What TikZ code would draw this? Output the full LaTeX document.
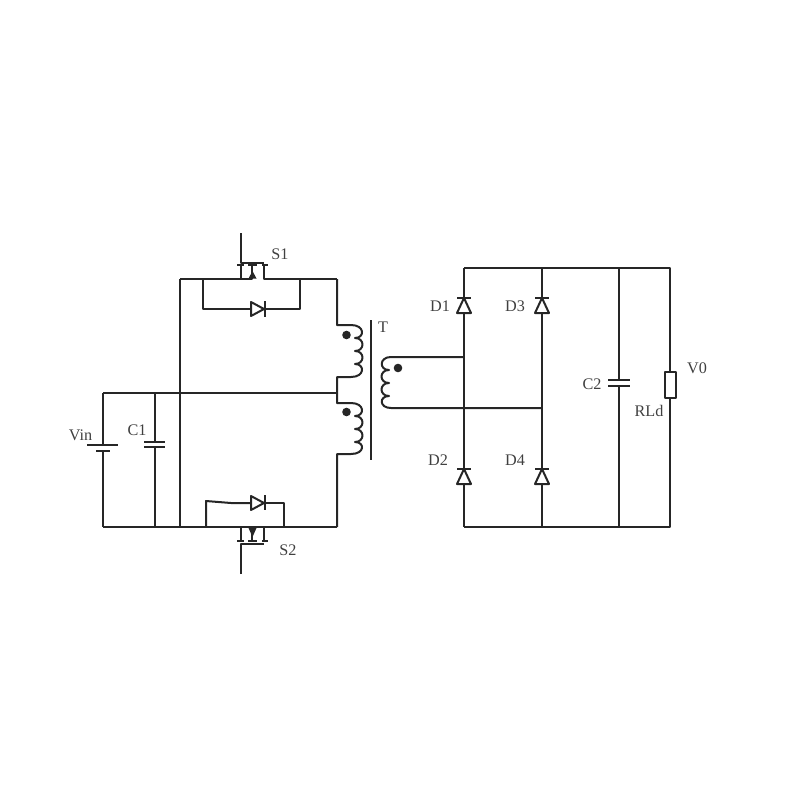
\documentclass[tikz,border=0pt]{standalone}
\usepackage{fontspec}
\setmainfont{Liberation Serif}
\definecolor{wirecol}{gray}{0.15}
\definecolor{labelcol}{gray}{0.25}
\tikzset{
    wire/.style={draw=wirecol,line width=0.57pt,line join=round},
    blob/.style={fill=wirecol,draw=none},
    lbl/.style={text=labelcol,inner sep=0pt,font=\fontsize{4.6}{5}\selectfont}
}

\begin{document}
\begin{tikzpicture}[x=0.01cm,y=-0.01cm]
    \useasboundingbox (0,0) rectangle (800,800);

    %Punkter
        \coordinate (batTop) at (103,393);
        \coordinate (batBot) at (103,527);
        \coordinate (capOneTop) at (155,393);
        \coordinate (capOneBot) at (155,527);
        \coordinate (railTop) at (180,279);
        \coordinate (railBot) at (180,527);
        \coordinate (primTop) at (337,279);
        \coordinate (primMid) at (337,393);
        \coordinate (primBot) at (337,527);
        \coordinate (oneTop) at (464,268);
        \coordinate (oneSec) at (464,357);
        \coordinate (oneBot) at (464,527);
        \coordinate (twoTop) at (542,268);
        \coordinate (twoSec) at (542,408);
        \coordinate (twoBot) at (542,527);
        \coordinate (capTwoTop) at (619,268);
        \coordinate (capTwoBot) at (619,527);
        \coordinate (loadTop) at (670,268);
        \coordinate (loadBot) at (670,527);

    %Inngang
        \draw[wire] (batBot)--(primBot);
        \draw[wire] (batTop)--(primMid);
        \draw[wire] (batTop)--(103,445);
        \draw[wire] (103,451)--(batBot);
        \draw[wire] (87,445)--(118,445);
        \draw[wire] (96,451)--(110,451);
        \draw[wire] (capOneTop)--(155,442);
        \draw[wire] (155,447)--(capOneBot);
        \draw[wire] (144,442)--(165,442);
        \draw[wire] (144,447)--(165,447);
        \draw[wire] (railTop)--(railBot);

    %S1
        \draw[wire] (railTop)--(252,279)--(252,265);
        \draw[wire] (241,279)--(241,265);
        \draw[wire] (264,265)--(264,279)--(primTop);
        \draw[wire] (241,233)--(241,263)--(264,263);
        \draw[wire] (237,265)--(244,265);
        \draw[wire] (248,265)--(257,265);
        \draw[wire] (262,265)--(268,265);
        \fill[blob] (252.5,271)--(256.5,278.5)--(248.5,278.5)--cycle;
        \draw[wire] (203,279)--(203,309)--(251,309);
        \draw[wire] (264,309)--(300,309)--(300,279);
        \draw[wire] (251,302)--(264,309)--(251,316)--cycle;
        \draw[wire] (265,301)--(265,317);

    %S2
        \draw[wire] (252,527)--(252,541);
        \draw[wire] (241,527)--(241,541);
        \draw[wire] (264,541)--(264,527)--(primBot);
        \draw[wire] (241,574)--(241,544)--(264,544);
        \draw[wire] (237,541)--(244,541);
        \draw[wire] (248,541)--(257,541);
        \draw[wire] (262,541)--(268,541);
        \fill[blob] (252.5,537)--(256.5,528)--(248.5,528)--cycle;
        \draw[wire] (206,527)--(206,501)--(231,503)--(251,503);
        \draw[wire] (264,503)--(284,503)--(284,527);
        \draw[wire] (251,496)--(264,503)--(251,510)--cycle;
        \draw[wire] (265,495)--(265,510);

    %Trafo
        \draw[wire] (primTop)--(337,325)--(351,325)
            .. controls (365,325) and (365,338) .. (355,338)
            .. controls (365,338) and (365,351) .. (355,351)
            .. controls (365,351) and (365,364) .. (355,364)
            .. controls (365,364) and (365,377) .. (351,377)
            --(337,377)--(primMid);
        \draw[wire] (primMid)--(337,403)--(351,403)
            .. controls (365,403) and (365,416) .. (355,416)
            .. controls (365,416) and (365,429) .. (355,429)
            .. controls (365,429) and (365,442) .. (355,442)
            .. controls (365,442) and (365,454) .. (351,454)
            --(337,454)--(primBot);
        \draw[wire] (oneSec)--(391,357)
            .. controls (379,357) and (379,370) .. (389,370)
            .. controls (379,370) and (379,383) .. (389,383)
            .. controls (379,383) and (379,396) .. (389,396)
            .. controls (379,396) and (379,408) .. (391,408)
            --(twoSec);
        \draw[wire] (371,320)--(371,460);
        \fill[blob] (346.5,335) circle (4.3);
        \fill[blob] (346.5,412) circle (4.3);
        \fill[blob] (398,368) circle (4.3);

    %Likeretter
        \draw[wire] (oneTop)--(loadTop)--(670,372);
        \draw[wire] (670,398)--(loadBot)--(oneBot);
        \draw[wire] (oneTop)--(464,298);
        \draw[wire] (464,313)--(464,469);
        \draw[wire] (464,484)--(oneBot);
        \draw[wire] (twoTop)--(542,298);
        \draw[wire] (542,313)--(542,469);
        \draw[wire] (542,484)--(twoBot);
        \draw[wire] (457,298)--(471,298);
        \draw[wire] (464,298)--(457,313)--(471,313)--cycle;
        \draw[wire] (535,298)--(549,298);
        \draw[wire] (542,298)--(535,313)--(549,313)--cycle;
        \draw[wire] (457,469)--(471,469);
        \draw[wire] (464,469)--(457,484)--(471,484)--cycle;
        \draw[wire] (535,469)--(549,469);
        \draw[wire] (542,469)--(535,484)--(549,484)--cycle;

    %Last
        \draw[wire] (capTwoTop)--(619,380);
        \draw[wire] (619,386)--(capTwoBot);
        \draw[wire] (608,380)--(630,380);
        \draw[wire] (608,386)--(630,386);
        \draw[wire] (665,372) rectangle (676,398);

    %Tekst
        \node[lbl] (labelSone) at (280,254) {S1};
        \node[lbl] (labelStwo) at (288,550) {S2};
        \node[lbl] (labelT) at (383,327) {T};
        \node[lbl] (labelVin) at (80.5,435.5) {Vin};
        \node[lbl] (labelCone) at (137,430) {C1};
        \node[lbl] (labelDone) at (440,306) {D1};
        \node[lbl] (labelDthree) at (515,306) {D3};
        \node[lbl] (labelDtwo) at (438,460) {D2};
        \node[lbl] (labelDfour) at (515,460) {D4};
        \node[lbl] (labelCtwo) at (592,384) {C2};
        \node[lbl] (labelRLd) at (649,411) {RLd};
        \node[lbl] (labelVzero) at (697,368) {V0};
\end{tikzpicture}
\end{document}
